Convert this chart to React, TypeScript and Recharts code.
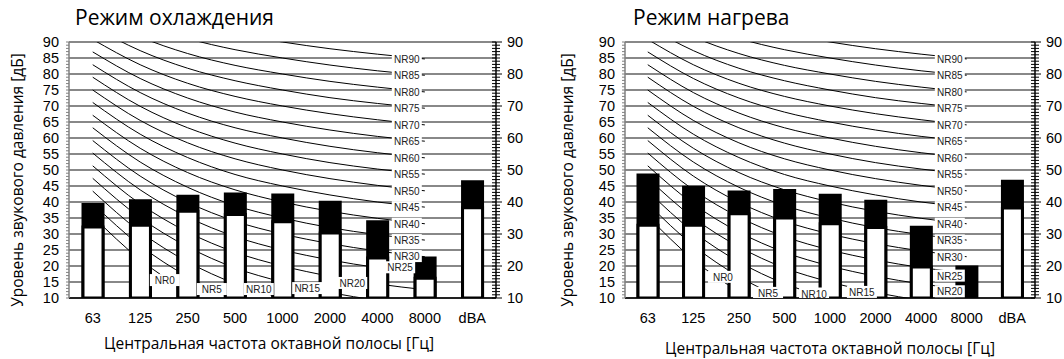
import { Bar, CartesianGrid, ComposedChart, Line, Scatter, XAxis, YAxis } from "recharts";

const bands = ["63", "125", "250", "500", "1000", "2000", "4000", "8000", "dBA"];
const gridTicks = [10, 15, 20, 25, 30, 35, 40, 45, 50, 55, 60, 65, 70, 75, 80, 85, 90];
const minorTicks = Array.from({ length: 81 }, (_, i) => 10 + i);

// NR curves, 63 Hz .. 8000 Hz
const nr0 = [35.5, 22.0, 12.0, 4.8, 0.0, -3.5, -6.1, -8.0];
const nr5 = [39.5, 26.4, 16.7, 9.7, 5.0, 1.6, -1.0, -2.9];
const nr10 = [43.4, 30.7, 21.3, 14.5, 10.0, 6.7, 4.2, 2.3];
const nr15 = [47.4, 35.1, 26.0, 19.4, 15.0, 11.7, 9.3, 7.5];
const nr20 = [51.3, 39.4, 30.6, 24.3, 20.0, 16.8, 14.4, 12.6];
const nr25 = [55.3, 43.8, 35.3, 29.2, 25.0, 21.9, 19.5, 17.8];
const nr30 = [59.2, 48.1, 39.9, 34.0, 30.0, 27.0, 24.7, 22.9];
const nr35 = [63.2, 52.5, 44.6, 38.9, 35.0, 32.0, 29.8, 28.1];
const nr40 = [67.1, 56.8, 49.2, 43.8, 40.0, 37.1, 34.9, 33.2];
const nr45 = [71.1, 61.2, 53.9, 48.6, 45.0, 42.2, 40.0, 38.4];
const nr50 = [75.0, 65.5, 58.5, 53.5, 50.0, 47.3, 45.2, 43.5];
const nr55 = [79.0, 69.9, 63.2, 58.4, 55.0, 52.3, 50.3, 48.7];
const nr60 = [82.9, 74.2, 67.8, 63.2, 60.0, 57.4, 55.4, 53.8];
const nr65 = [86.9, 78.6, 72.5, 68.1, 65.0, 62.5, 60.5, 59.0];
const nr70 = [90.8, 82.9, 77.1, 73.0, 70.0, 67.6, 65.7, 64.1];
const nr75 = [94.8, 87.3, 81.8, 77.9, 75.0, 72.6, 70.8, 69.3];
const nr80 = [98.7, 91.6, 86.4, 82.7, 80.0, 77.7, 75.9, 74.4];
const nr85 = [102.7, 96.0, 91.1, 87.6, 85.0, 82.8, 81.0, 79.6];
const nr90 = [106.6, 100.3, 95.7, 92.5, 90.0, 87.9, 86.2, 84.7];
const nrLevels = [0, 5, 10, 15, 20, 25, 30, 35, 40, 45, 50, 55, 60, 65, 70, 75, 80, 85, 90];
const nrCurves = [nr0, nr5, nr10, nr15, nr20, nr25, nr30, nr35, nr40, nr45, nr50, nr55, nr60, nr65, nr70, nr75, nr80, nr85, nr90];

// cooling mode
const coolTotal = [39.2, 40.4, 41.8, 42.5, 42.2, 39.9, 33.8, 22.5, 46.3];
const coolLower = [32.2, 32.7, 37.1, 36.1, 33.8, 30.3, 22.5, 16.2, 38.2];
const coolLabelX = [1.52, 2.51, 3.5, 4.52, 5.47, 6.48, 6.62, 6.62, 6.62, 6.62, 6.62, 6.62, 6.62, 6.62, 6.62, 6.62, 6.62, 6.62, 6.62];
const coolLabelY = [15.6, 12.8, 12.8, 13.1, 14.7, 19.6, 23.1, 28.1, 33.2, 38.4, 43.5, 48.7, 53.8, 59.0, 64.1, 69.3, 74.4, 79.6, 84.7];

// heating mode
const heatTotal = [48.4, 44.6, 43.1, 43.6, 42.1, 40.2, 32.1, 19.7, 46.5];
const heatLower = [32.7, 32.7, 36.3, 35.0, 33.2, 32.0, 19.7, 10, 38.1];
const heatLabelX = [1.65, 2.64, 3.65, 4.7, 6.63, 6.63, 6.63, 6.63, 6.63, 6.63, 6.63, 6.63, 6.63, 6.63, 6.63, 6.63, 6.63, 6.63, 6.63];
const heatLabelY = [16.6, 11.6, 11.4, 11.9, 12.1, 17.0, 22.8, 28.0, 33.2, 38.4, 43.5, 48.7, 53.8, 59.0, 64.1, 69.3, 74.4, 79.6, 84.7];

const tickFont = "'Liberation Sans', Arial, sans-serif";
const textFont = "'Open Sans', 'Noto Sans', sans-serif";

function buildRows(total: number[], lower: number[]) {
  return bands.map((f, i) => {
    const row: Record<string, any> = { f, total: total[i], lower: lower[i] };
    nrLevels.forEach((n, k) => {
      if (i < nrCurves[k].length) row["nr" + n] = nrCurves[k][i];
    });
    return row;
  });
}

const LeftTick = (props: any) => {
  const { x, y, payload } = props;
  const v = payload.value;
  return (
    <g>
      <line x1={x - 3} x2={x} y1={y} y2={y} stroke="#808080" strokeWidth={1} />
      {v % 5 === 0 && (
        <text x={x - 10} y={y + 5} textAnchor="end" fontSize={14.5} fontFamily={tickFont} fill="#000">
          {v}
        </text>
      )}
    </g>
  );
};

const RightTick = (props: any) => {
  const { x, y, payload } = props;
  const v = payload.value;
  const major = v % 10 === 0;
  return (
    <g>
      <line x1={x - 4} x2={x + (major ? 6 : 4)} y1={y} y2={y} stroke="#000" strokeWidth={1} />
      {major && (
        <text x={x + 11} y={y + 5} textAnchor="start" fontSize={14.5} fontFamily={tickFont} fill="#000">
          {v}
        </text>
      )}
    </g>
  );
};

const NrLabel = (props: any) => {
  const { cx, cy, payload } = props;
  return (
    <g>
      <rect x={cx - 15} y={cy - 6} width={30} height={12} fill="#fff" />
      <text x={cx} y={cy + 4} textAnchor="middle" fontSize={10} fontFamily={tickFont} fill="#222">
        {payload.name}
      </text>
    </g>
  );
};

type PanelProps = {
  left: number;
  title: string;
  total: number[];
  lower: number[];
  labelX: number[];
  labelY: number[];
  leftAxisW: number;
  rightAxisW: number;
  titleX: number;
  yTitleX: number;
  xTitleX: number;
  xTitleY: number;
};

function Panel({ left, title, total, lower, labelX, labelY, leftAxisW, rightAxisW, titleX, yTitleX, xTitleX, xTitleY }: PanelProps) {
  const rows = buildRows(total, lower);
  const labels = nrLevels.map((n, k) => ({ x: labelX[k], y: labelY[k], name: "NR" + n }));
  return (
    <div style={{ position: "absolute", left, top: 0, width: 532, height: 359 }}>
      <ComposedChart width={532} height={359} data={rows} margin={{ top: 42, right: 0, bottom: 0, left: 0 }}>
        <CartesianGrid yAxisId="g" xAxisId="cat" vertical={false} stroke="#606060" strokeWidth={1.6} />
        {nrLevels.map((n) => (
          <Line
            key={n}
            xAxisId="cat"
            yAxisId="l"
            dataKey={"nr" + n}
            type="monotone"
            stroke="#000"
            strokeWidth={1}
            dot={false}
            activeDot={false}
            isAnimationActive={false}
            zIndex={250}
          />
        ))}
        <Bar xAxisId="cat" yAxisId="l" dataKey="total" fill="#000" stroke="#000" strokeWidth={3} barSize={20} isAnimationActive={false} />
        <Bar xAxisId="cat2" yAxisId="l" dataKey="lower" fill="#fff" stroke="#000" strokeWidth={3} barSize={20} isAnimationActive={false} />
        <Scatter xAxisId="num" yAxisId="l" data={labels} dataKey="y" shape={NrLabel} isAnimationActive={false} />
        <XAxis
          xAxisId="cat"
          dataKey="f"
          height={61}
          interval={0}
          tickLine={false}
          tickMargin={9}
          axisLine={{ stroke: "#000", strokeWidth: 1.5 }}
          tick={{ fontSize: 14.5, fill: "#000", fontFamily: tickFont }}
        />
        <XAxis xAxisId="cat2" dataKey="f" height={0} hide />
        <XAxis xAxisId="num" dataKey="x" type="number" domain={[-0.5, 8.5]} allowDataOverflow height={0} hide />
        <YAxis
          yAxisId="l"
          orientation="left"
          width={leftAxisW}
          type="number"
          domain={[10, 90]}
          allowDataOverflow
          ticks={minorTicks}
          interval={0}
          tickSize={0}
          tickMargin={0}
          tickLine={false}
          axisLine={{ stroke: "#808080", strokeWidth: 1.5 }}
          tick={<LeftTick />}
        />
        <YAxis
          yAxisId="r"
          orientation="right"
          width={rightAxisW}
          type="number"
          domain={[10, 90]}
          allowDataOverflow
          ticks={minorTicks}
          interval={0}
          tickSize={0}
          tickMargin={0}
          tickLine={false}
          axisLine={{ stroke: "#000", strokeWidth: 1.5 }}
          tick={<RightTick />}
        />
        <YAxis yAxisId="g" type="number" domain={[10, 90]} allowDataOverflow ticks={gridTicks} interval={0} width={0} hide />
      </ComposedChart>
      <div style={{ position: "absolute", left: titleX, top: 7, fontFamily: textFont, fontSize: 21, lineHeight: "21px", whiteSpace: "nowrap", color: "#000" }}>
        {title}
      </div>
      <div
        style={{
          position: "absolute",
          left: yTitleX,
          top: 180,
          transform: "translate(-50%, -50%) rotate(-90deg)",
          fontFamily: textFont,
          fontSize: 15.5,
          whiteSpace: "nowrap",
          color: "#000"
        }}
      >
        Уровень звукового давления [дБ]
      </div>
      <div
        style={{
          position: "absolute",
          left: xTitleX,
          top: xTitleY,
          transform: "translate(-50%, -50%)",
          fontFamily: textFont,
          fontSize: 15.5,
          whiteSpace: "nowrap",
          color: "#000"
        }}
      >
        Центральная частота октавной полосы [Гц]
      </div>
    </div>
  );
}

export default function App() {
  return (
    <div style={{ position: "absolute", left: 0, top: 0, width: 1064, height: 359, background: "#fff" }}>
      <Panel
        left={0}
        title="Режим охлаждения"
        total={coolTotal}
        lower={coolLower}
        labelX={coolLabelX}
        labelY={coolLabelY}
        leftAxisW={69}
        rightAxisW={36}
        titleX={75}
        yTitleX={17}
        xTitleX={269}
        xTitleY={343}
      />
      <Panel
        left={532}
        title="Режим нагрева"
        total={heatTotal}
        lower={heatLower}
        labelX={heatLabelX}
        labelY={heatLabelY}
        leftAxisW={93}
        rightAxisW={29}
        titleX={101}
        yTitleX={35}
        xTitleX={298}
        xTitleY={348}
      />
    </div>
  );
}
